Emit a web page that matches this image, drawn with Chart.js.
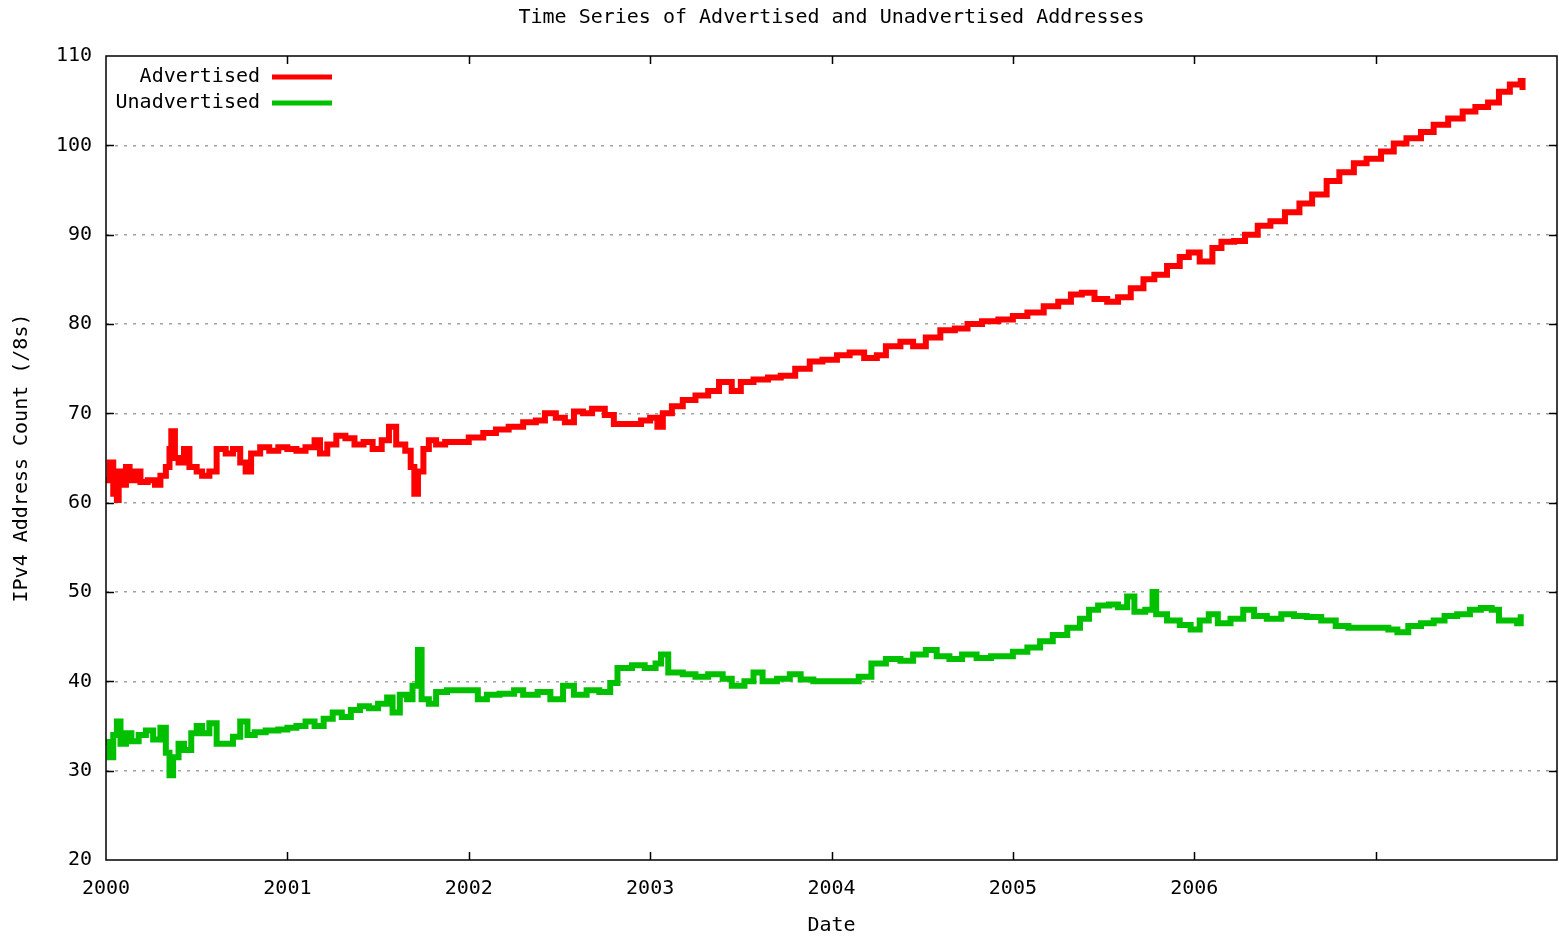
<!DOCTYPE html>
<html>
<head>
<meta charset="utf-8">
<script src="https://cdn.jsdelivr.net/npm/chart.js@4"></script>
<style>
  html, body { margin: 0; padding: 0; background: #fff; overflow: hidden; }
  #wrap { width: 1559px; height: 936px; position: relative; }
</style>
</head>
<body>
<div id="wrap"><canvas id="tsChart"></canvas></div>
<script>
// values (decimal year, count of /8s)
var advYears = [2000.00,2000.02,2000.04,2000.06,2000.07,2000.09,2000.11,2000.13,2000.16,2000.19,2000.23,2000.27,2000.30,2000.33,2000.35,2000.36,2000.38,2000.40,2000.43,2000.46,2000.50,2000.53,2000.57,2000.61,2000.66,2000.70,2000.74,2000.77,2000.80,2000.85,2000.90,2000.95,2001.00,2001.05,2001.10,2001.15,2001.18,2001.22,2001.27,2001.32,2001.37,2001.42,2001.47,2001.52,2001.56,2001.60,2001.65,2001.68,2001.70,2001.72,2001.75,2001.78,2001.82,2001.87,2001.93,2002.00,2002.08,2002.15,2002.22,2002.30,2002.37,2002.42,2002.48,2002.53,2002.58,2002.63,2002.68,2002.75,2002.80,2002.88,2002.95,2003.00,2003.04,2003.07,2003.12,2003.18,2003.25,2003.32,2003.38,2003.45,2003.50,2003.57,2003.65,2003.72,2003.80,2003.88,2003.95,2004.03,2004.10,2004.18,2004.25,2004.30,2004.38,2004.45,2004.52,2004.60,2004.68,2004.75,2004.83,2004.92,2005.00,2005.08,2005.17,2005.25,2005.32,2005.38,2005.45,2005.52,2005.58,2005.65,2005.72,2005.78,2005.85,2005.92,2005.97,2006.03,2006.10,2006.15,2006.22,2006.28,2006.35,2006.42,2006.50,2006.58,2006.65,2006.73,2006.80,2006.88,2006.95,2007.03,2007.10,2007.17,2007.25,2007.32,2007.40,2007.48,2007.55,2007.62,2007.68,2007.74,2007.80,2007.81];
var advValues = [62.5,64.5,61.0,60.3,63.5,62.0,64.0,62.5,63.5,62.3,62.5,62.0,63.0,64.0,66.0,68.0,65.0,64.5,66.0,64.0,63.5,63.0,63.5,66.0,65.5,66.0,64.5,63.5,65.5,66.2,65.8,66.2,66.0,65.8,66.2,67.0,65.5,66.5,67.5,67.2,66.5,66.8,66.0,67.0,68.5,66.5,65.8,64.0,61.0,63.5,66.0,67.0,66.5,66.8,66.8,67.3,67.8,68.2,68.5,69.0,69.2,70.0,69.5,69.0,70.2,70.0,70.5,69.8,68.8,68.8,69.2,69.5,68.5,70.0,70.8,71.5,72.0,72.5,73.5,72.5,73.5,73.8,74.0,74.2,75.0,75.8,76.0,76.5,76.8,76.2,76.5,77.5,78.0,77.5,78.5,79.3,79.5,80.0,80.3,80.5,80.9,81.3,82.0,82.5,83.3,83.5,82.8,82.5,83.0,84.0,85.0,85.5,86.5,87.5,88.0,87.0,88.5,89.2,89.3,90.0,91.0,91.5,92.5,93.5,94.5,96.0,97.0,98.0,98.5,99.3,100.2,100.8,101.5,102.3,103.0,103.8,104.3,104.8,106.0,106.8,107.2,106.2];

var unadvYears = [2000.00,2000.02,2000.04,2000.06,2000.08,2000.11,2000.14,2000.18,2000.22,2000.26,2000.30,2000.33,2000.35,2000.37,2000.40,2000.43,2000.47,2000.50,2000.53,2000.57,2000.61,2000.65,2000.70,2000.74,2000.78,2000.82,2000.88,2000.95,2001.00,2001.05,2001.10,2001.15,2001.20,2001.25,2001.30,2001.35,2001.40,2001.45,2001.50,2001.55,2001.58,2001.62,2001.66,2001.69,2001.72,2001.74,2001.78,2001.82,2001.88,2001.95,2002.00,2002.05,2002.10,2002.17,2002.25,2002.30,2002.38,2002.45,2002.52,2002.58,2002.65,2002.72,2002.78,2002.82,2002.90,2002.97,2003.03,2003.06,2003.10,2003.18,2003.25,2003.32,2003.40,2003.45,2003.52,2003.57,2003.62,2003.70,2003.77,2003.83,2003.90,2004.00,2004.10,2004.15,2004.22,2004.30,2004.38,2004.45,2004.52,2004.58,2004.65,2004.72,2004.80,2004.88,2004.95,2005.00,2005.08,2005.15,2005.22,2005.30,2005.37,2005.42,2005.47,2005.53,2005.58,2005.63,2005.67,2005.73,2005.77,2005.79,2005.85,2005.92,2005.98,2006.03,2006.08,2006.13,2006.20,2006.27,2006.33,2006.40,2006.48,2006.55,2006.62,2006.70,2006.78,2006.85,2006.92,2007.00,2007.07,2007.12,2007.18,2007.25,2007.32,2007.38,2007.45,2007.52,2007.58,2007.64,2007.68,2007.74,2007.78,2007.80];
var unadvValues = [33.2,31.5,34.0,35.5,33.0,34.2,33.3,34.0,34.5,33.5,34.8,32.0,29.5,31.5,33.0,32.3,34.2,35.0,34.2,35.3,33.0,33.0,33.8,35.5,34.0,34.3,34.5,34.6,34.8,35.0,35.5,35.0,35.8,36.5,36.0,36.8,37.2,37.0,37.5,38.2,36.5,38.5,38.0,39.5,43.5,38.0,37.5,38.8,39.0,39.0,39.0,38.0,38.5,38.6,39.0,38.5,38.8,38.0,39.5,38.5,39.0,38.8,39.8,41.5,41.8,41.5,42.0,43.0,41.0,40.8,40.5,40.8,40.3,39.5,40.0,41.0,40.0,40.3,40.8,40.2,40.0,40.0,40.0,40.5,42.0,42.5,42.3,43.0,43.5,42.8,42.5,43.0,42.6,42.8,42.8,43.3,43.8,44.5,45.2,46.0,47.0,48.0,48.5,48.6,48.3,49.5,47.8,48.0,50.0,47.5,46.8,46.3,45.8,46.8,47.5,46.5,47.0,48.0,47.3,47.0,47.5,47.3,47.2,46.8,46.2,46.0,46.0,46.0,45.8,45.5,46.2,46.5,46.8,47.3,47.5,48.0,48.2,48.0,46.8,46.8,46.5,47.5];

var seriesNames = ["Advertised", "Unadvertised"];
var seriesColors = ["#ff0000", "#00c000"];
var yearLabels = [2000, 2001, 2002, 2003, 2004, 2005, 2006];
var chartTitle = "Time Series of Advertised and Unadvertised Addresses";

var FONT = "'DejaVu Sans Mono', 'Liberation Mono', monospace";

function toPoints(xs, ys){
    var pts = [];
    for (var i = 0; i < xs.length; i++) pts.push({x: xs[i], y: ys[i]});
    return pts;
}

// gnuplot style frame: title over the plot, box, inward ticks on all four sides, legend top left
var framePlugin = {
    id: "frame",
    afterDatasetsDraw: function(chart){
        var ctx = chart.ctx, a = chart.chartArea;
        var xs = chart.scales.x, ys = chart.scales.y;
        ctx.save();
        ctx.font = "20px " + FONT;
        ctx.fillStyle = "#000";
        ctx.textAlign = "center";
        ctx.textBaseline = "middle";
        ctx.fillText(chartTitle, (a.left + a.right) / 2, 18);

        ctx.strokeStyle = "#000";
        ctx.lineWidth = 1.5;
        ctx.strokeRect(a.left, a.top, a.right - a.left, a.bottom - a.top);
        ctx.beginPath();
        xs.ticks.forEach(function(t){
            if (t.value <= xs.min || t.value >= xs.max) return;
            var px = Math.round(xs.getPixelForValue(t.value)) + 0.5;
            ctx.moveTo(px, a.bottom); ctx.lineTo(px, a.bottom - 8);
            ctx.moveTo(px, a.top); ctx.lineTo(px, a.top + 8);
        });
        ys.ticks.forEach(function(t){
            if (t.value <= ys.min || t.value >= ys.max) return;
            var py = Math.round(ys.getPixelForValue(t.value)) + 0.5;
            ctx.moveTo(a.left, py); ctx.lineTo(a.left + 8, py);
            ctx.moveTo(a.right, py); ctx.lineTo(a.right - 8, py);
        });
        ctx.stroke();

        // legend
        ctx.textAlign = "right";
        chart.data.datasets.forEach(function(ds, i){
            var y = a.top + 21 + i * 26;
            ctx.fillStyle = "#000";
            ctx.fillText(ds.label, a.left + 154, y);
            ctx.strokeStyle = ds.borderColor;
            ctx.lineWidth = 5;
            ctx.beginPath();
            ctx.moveTo(a.left + 166, y);
            ctx.lineTo(a.left + 226, y);
            ctx.stroke();
        });
        ctx.restore();
    }
};

Chart.defaults.font.family = FONT;
Chart.defaults.font.size = 20;
Chart.defaults.color = "#000";

new Chart("tsChart", {
    type: "line",
    data: {
        datasets: [{
            label: seriesNames[0],
            data: toPoints(advYears, advValues),
            borderColor: seriesColors[0],
            borderWidth: 6,
            pointRadius: 0,
            stepped: true,
            fill: false
        }, {
            label: seriesNames[1],
            data: toPoints(unadvYears, unadvValues),
            borderColor: seriesColors[1],
            borderWidth: 6,
            pointRadius: 0,
            stepped: true,
            fill: false
        }]
    },
    options: {
        responsive: true,
        maintainAspectRatio: false,
        animation: false,
        layout: {padding: {left: 0, right: 2, top: 56, bottom: 0}},
        plugins: {
            legend: {display: false},
            tooltip: {enabled: false},
            title: {display: false}
        },
        scales: {
            x: {
                type: "linear",
                min: 2000,
                max: 2008,
                grid: {display: false, drawTicks: false},
                border: {display: false},
                ticks: {
                    stepSize: 1,
                    padding: 17,
                    maxRotation: 0,
                    callback: function(v){ return yearLabels.indexOf(v) >= 0 ? String(v) : ""; }
                },
                title: {display: true, text: "Date", font: {lineHeight: 1}, padding: {top: 0, bottom: 0}},
                afterFit: function(s){ s.height = 76; s.paddingLeft = 0; s.paddingRight = 0; }
            },
            y: {
                min: 20,
                max: 110,
                grid: {
                    drawTicks: false,
                    color: function(c){ return (c.tick.value <= 20 || c.tick.value >= 110) ? "rgba(0,0,0,0)" : "#a0a0a0"; },
                    lineWidth: 1.5
                },
                border: {display: false, dash: [3, 6]},
                ticks: {stepSize: 10, padding: 14},
                title: {display: true, text: "IPv4 Address Count (/8s)", padding: {top: 10, bottom: 0}},
                afterFit: function(s){ s.width = 106; s.paddingTop = 0; s.paddingBottom = 0; }
            }
        }
    },
    plugins: [framePlugin]
});
</script>
</body>
</html>
